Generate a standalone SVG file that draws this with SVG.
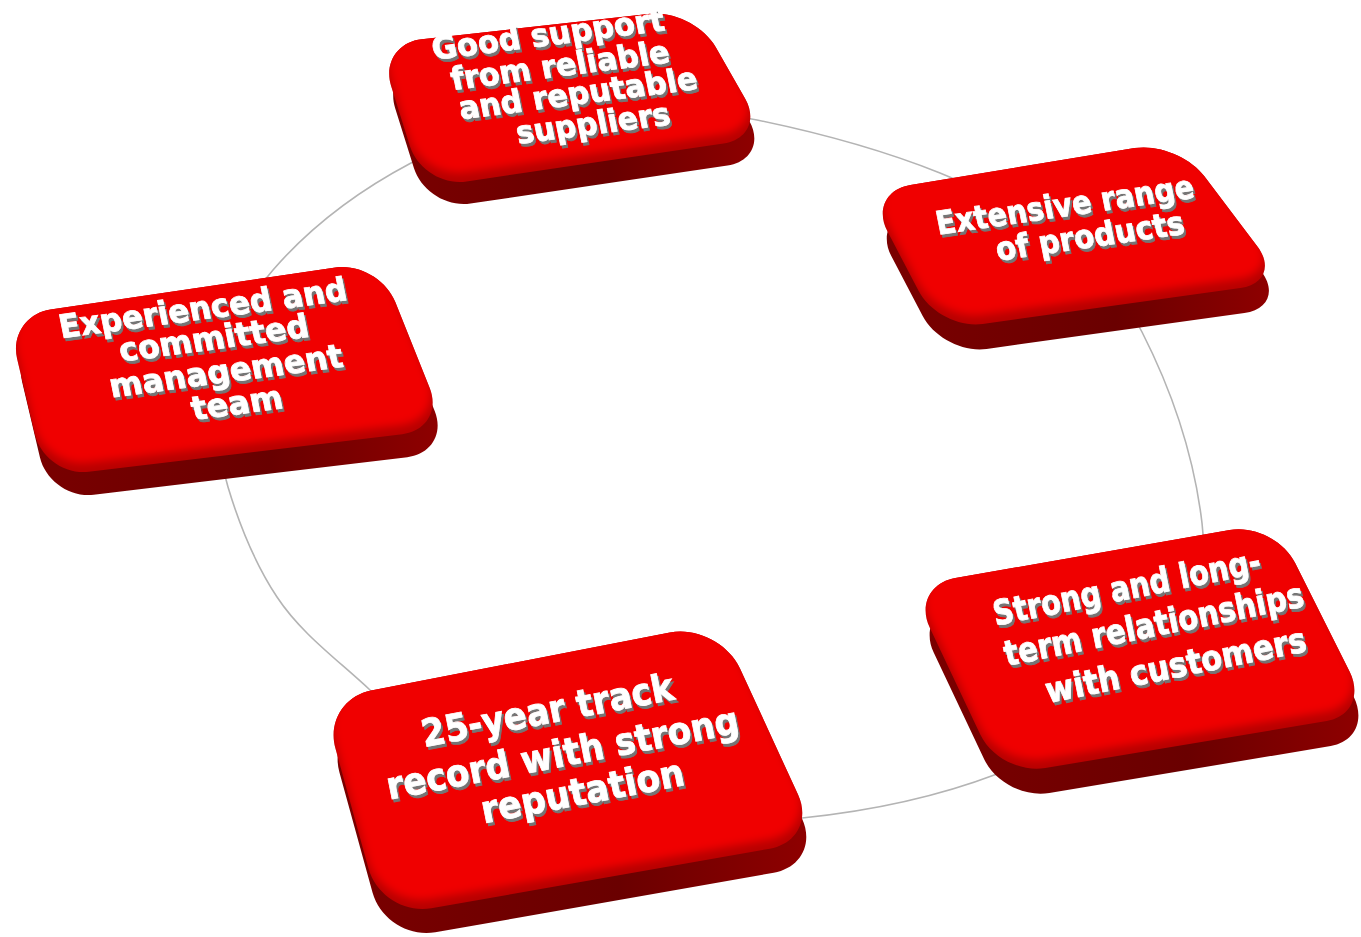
<svg xmlns="http://www.w3.org/2000/svg" width="1361" height="937" viewBox="0 0 1361 937">
<defs>
<style>
.base{fill:url(#gBase)}
.bev{fill:#b80000}
.hi{fill:#f00000;filter:url(#soft)}
.t{font-family:"DejaVu Sans","Liberation Sans",sans-serif;font-weight:bold;fill:#ffffff;stroke:#ffffff;stroke-width:0.8;text-anchor:middle}
.ring{fill:none;stroke:#b4b4b4;stroke-width:1.6}
</style>
<linearGradient id="gBase" x1="0" y1="0" x2="1" y2="0">
<stop offset="0" stop-color="#7a0000"/><stop offset="0.6" stop-color="#6a0000"/><stop offset="1" stop-color="#8e0000"/>
</linearGradient>
<filter id="soft" x="-10%" y="-10%" width="120%" height="120%">
<feGaussianBlur stdDeviation="4"/>
</filter>
<filter id="ts" x="-5%" y="-10%" width="110%" height="130%">
<feOffset in="SourceAlpha" dx="1.8" dy="2.8" result="o"/>
<feFlood flood-color="#757575"/>
<feComposite in2="o" operator="in" result="s"/>
<feMerge><feMergeNode in="s"/><feMergeNode in="SourceGraphic"/></feMerge>
</filter>
<path id="p1" d="M421.7,39.2 L650.3,13.8 C674.3,11.2 703.8,26.2 715.8,47.2 L745.2,98.8 C757.2,119.8 747.4,139.9 723.5,143.5 L466.5,181.5 C442.6,185.1 417.1,169.1 409.9,146 L391.1,86 C383.9,62.9 397.7,41.8 421.7,39.2 Z"/>
<path id="p2" d="M910.4,184.9 L1134.6,148.1 C1158.5,144.2 1189.9,156.8 1204.4,176.2 L1257.6,246.8 C1272.1,266.2 1264.4,284.7 1240.4,288.1 L982.6,323.9 C958.6,327.3 929.9,312.5 918.7,291 L887.3,231 C876.1,209.5 886.5,188.8 910.4,184.9 Z"/>
<path id="p3" d="M50.5,309.6 L335.5,267.4 C359.4,263.9 386.3,279.4 395.3,301.9 L429.7,388.1 C438.7,410.6 426.3,431.4 402.3,434.2 L88.7,471.8 C64.7,474.6 40.4,457.7 34.9,434.2 L17.1,358.8 C11.6,335.3 26.6,313.1 50.5,309.6 Z"/>
<path id="p4" d="M955.3,578 L1229.7,530 C1254.6,525.6 1284.1,540.6 1295.3,563.3 L1349.7,671.7 C1360.9,694.4 1351.6,716.6 1326.7,721 L1045.3,768 C1020.4,772.4 991.1,757.3 980.3,734.4 L929.7,627.6 C918.9,604.7 930.4,582.4 955.3,578 Z"/>
<path id="p5" d="M371.1,690.5 L669.9,632.5 C696.9,627.3 728.4,643.4 740,668.4 L798,794.6 C809.6,819.6 796.8,843.9 769.7,848.7 L431.3,908.3 C404.2,913.1 376,895.3 368.6,868.8 L335.4,748.2 C328,721.7 344.1,695.7 371.1,690.5 Z"/>
<clipPath id="c1"><use href="#p1"/></clipPath>
<clipPath id="c2"><use href="#p2"/></clipPath>
<clipPath id="c3"><use href="#p3"/></clipPath>
<clipPath id="c4"><use href="#p4"/></clipPath>
<clipPath id="c5"><use href="#p5"/></clipPath>
</defs>
<rect width="1361" height="937" fill="#ffffff"/>
<g id="connectors">
<path class="ring" d="M273,270 C311,226.2 359.7,190.1 411,163 C512.7,109.2 644.3,96.9 757,120 C818.7,132.7 881.5,149.6 940,173 C1018.9,204.5 1103.4,256.3 1142,332 C1172.4,391.7 1194.1,456.5 1202,523 C1217.3,652.1 1118.6,727.8 997,774 C934.4,797.8 868.7,811.2 802,818 C632.8,835.3 493.9,806.5 370,690 C337.9,659.9 301.2,633.7 277,597 C255,563.6 239.5,525.3 228,487 C203.6,405.6 217.2,334.2 273,270 Z"/>
</g>
<g id="node-suppliers">
<use href="#p1" class="base" transform="translate(4,22)"/>
<use href="#p1" class="bev"/>
<g clip-path="url(#c1)"><use href="#p1" class="hi" transform="translate(-1,-9)"/></g>
<g filter="url(#ts)">
<text class="t" font-size="31" textLength="234" lengthAdjust="spacingAndGlyphs" transform="matrix(0.992 -0.127 0.2 1 550 45)">Good support</text>
<text class="t" font-size="31" textLength="220" lengthAdjust="spacingAndGlyphs" transform="matrix(0.992 -0.127 0.2 1 562 76)">from reliable</text>
<text class="t" font-size="31" textLength="240" lengthAdjust="spacingAndGlyphs" transform="matrix(0.992 -0.127 0.2 1 580 104)">and reputable</text>
<text class="t" font-size="31" textLength="155" lengthAdjust="spacingAndGlyphs" transform="matrix(0.992 -0.127 0.2 1 595 134)">suppliers</text>
</g>
</g>
<g id="node-products">
<use href="#p2" class="base" transform="translate(4,25)"/>
<use href="#p2" class="bev"/>
<g clip-path="url(#c2)"><use href="#p2" class="hi" transform="translate(-1,-9)"/></g>
<g filter="url(#ts)">
<text class="t" font-size="32" textLength="260" lengthAdjust="spacingAndGlyphs" transform="matrix(0.990 -0.1435 0.2 1 1067 216)">Extensive range</text>
<text class="t" font-size="32" textLength="190" lengthAdjust="spacingAndGlyphs" transform="matrix(0.990 -0.1435 0.2 1 1092 247)">of products</text>
</g>
</g>
<g id="node-management">
<use href="#p3" class="base" transform="translate(5,23)"/>
<use href="#p3" class="bev"/>
<g clip-path="url(#c3)"><use href="#p3" class="hi" transform="translate(-1,-9)"/></g>
<g filter="url(#ts)">
<text class="t" font-size="32" textLength="290" lengthAdjust="spacingAndGlyphs" transform="matrix(0.991 -0.132 0.2 1 205 319)">Experienced and</text>
<text class="t" font-size="32" textLength="191" lengthAdjust="spacingAndGlyphs" transform="matrix(0.991 -0.132 0.2 1 216 349)">committed</text>
<text class="t" font-size="32" textLength="235" lengthAdjust="spacingAndGlyphs" transform="matrix(0.991 -0.132 0.2 1 228 382)">management</text>
<text class="t" font-size="32" textLength="92" lengthAdjust="spacingAndGlyphs" transform="matrix(0.991 -0.132 0.2 1 239 414)">team</text>
</g>
</g>
<g id="node-customers">
<use href="#p4" class="base" transform="translate(4,25)"/>
<use href="#p4" class="bev"/>
<g clip-path="url(#c4)"><use href="#p4" class="hi" transform="translate(-1,-9)"/></g>
<g filter="url(#ts)">
<text class="t" font-size="34" textLength="272" lengthAdjust="spacingAndGlyphs" transform="matrix(0.981 -0.196 0.2 1 1129 599)">Strong and long-</text>
<text class="t" font-size="34" textLength="305" lengthAdjust="spacingAndGlyphs" transform="matrix(0.981 -0.196 0.2 1 1156 636)">term relationships</text>
<text class="t" font-size="34" textLength="265" lengthAdjust="spacingAndGlyphs" transform="matrix(0.981 -0.196 0.2 1 1178 677)">with customers</text>
</g>
</g>
<g id="node-track-record">
<use href="#p5" class="base" transform="translate(4,24)"/>
<use href="#p5" class="bev"/>
<g clip-path="url(#c5)"><use href="#p5" class="hi" transform="translate(-1,-9)"/></g>
<g filter="url(#ts)">
<text class="t" font-size="37" textLength="256" lengthAdjust="spacingAndGlyphs" transform="matrix(0.982 -0.187 0.2 1 550 723)">25-year track</text>
<text class="t" font-size="37" textLength="358" lengthAdjust="spacingAndGlyphs" transform="matrix(0.982 -0.187 0.2 1 565 766)">record with strong</text>
<text class="t" font-size="37" textLength="206" lengthAdjust="spacingAndGlyphs" transform="matrix(0.982 -0.187 0.2 1 585 804)">reputation</text>
</g>
</g>
</svg>
